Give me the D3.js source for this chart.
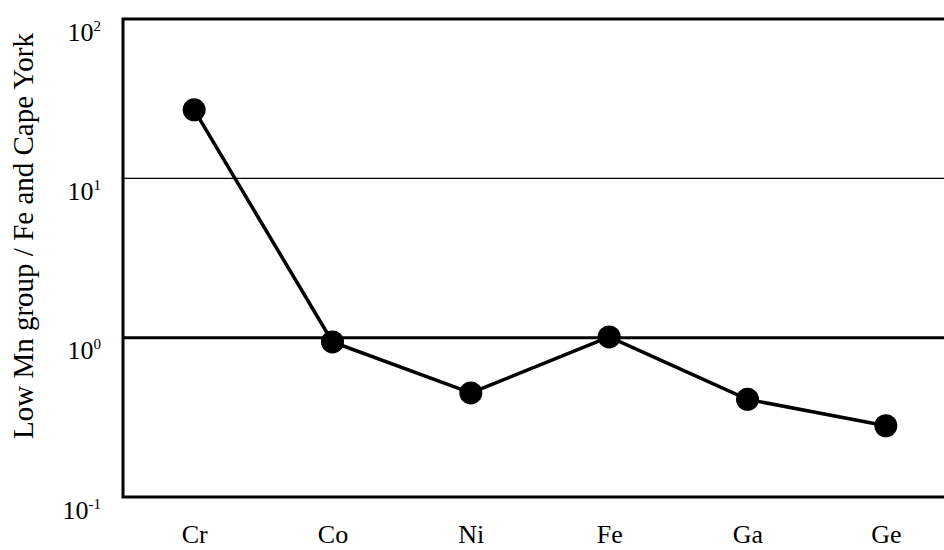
<!DOCTYPE html>
<html lang="en">
<head>
<meta charset="UTF-8">
<title>Low Mn group / Fe and Cape York</title>
<script src="https://d3js.org/d3.v7.min.js"></script>
<style>
  body { margin: 0; background: #fff; }
  svg text { font-family: "Liberation Serif", "Times New Roman", serif; fill: #000; }
</style>
</head>
<body>
<svg width="944" height="550"></svg>
<script>
  // data
  const elements = ["Cr", "Co", "Ni", "Fe", "Ga", "Ge"];
  const ratios = [26.9, 0.94, 0.45, 1.01, 0.41, 0.28];
  const yTicks = [0.1, 1, 10, 100];
  const yTickExp = ["-1", "0", "1", "2"];
  const yLabel = "Low Mn group / Fe and Cape York";

  const svg = d3.select("svg");
  const plotLeft = 123, plotTop = 19, plotBottom = 497, plotRight = 960;

  const x = d3.scalePoint().domain(elements).range([125, 955]).padding(0.5);
  const y = d3.scaleLog().domain([0.1, 100]).range([plotBottom, plotTop]);

  // frame (right side runs off the page)
  svg.append("path")
    .attr("d", `M${plotRight},${plotTop}H${plotLeft}V${plotBottom}H${plotRight}`)
    .attr("fill", "none")
    .attr("stroke", "#000")
    .attr("stroke-width", 3);

  // reference lines at 10 and 1
  svg.append("line")
    .attr("x1", plotLeft).attr("x2", plotRight)
    .attr("y1", y(10)).attr("y2", y(10))
    .attr("stroke", "#000").attr("stroke-width", 1.4);
  svg.append("line")
    .attr("x1", plotLeft).attr("x2", plotRight)
    .attr("y1", y(1)).attr("y2", y(1))
    .attr("stroke", "#000").attr("stroke-width", 3);

  // y axis tick labels as 10^n
  const yAxis = svg.append("g")
    .attr("transform", `translate(${plotLeft},0)`)
    .call(d3.axisLeft(y).tickValues(yTicks).tickSize(0).tickFormat(""));
  yAxis.select(".domain").remove();
  yAxis.selectAll(".tick text").remove();
  yAxis.selectAll(".tick").each(function (d, i) {
    const t = d3.select(this).append("text")
      .attr("x", -22)
      .attr("y", 21)
      .attr("text-anchor", "end")
      .attr("font-size", 26);
    t.append("tspan").text("10");
    t.append("tspan")
      .attr("font-size", 15)
      .attr("dy", -10)
      .text(yTickExp[i]);
  });

  // x axis category labels
  const xAxis = svg.append("g")
    .attr("transform", `translate(0,${plotBottom})`)
    .call(d3.axisBottom(x).tickSize(0).tickPadding(0));
  xAxis.select(".domain").remove();
  xAxis.selectAll(".tick text")
    .attr("font-size", 26)
    .attr("dy", 0)
    .attr("y", 46)
    .style("font-family", "Liberation Serif, serif");

  // y axis title
  svg.append("text")
    .attr("transform", "translate(33,236) rotate(-90)")
    .attr("text-anchor", "middle")
    .attr("font-size", 29)
    .text(yLabel);

  // data line and markers
  const pts = elements.map((e, i) => ({ e, v: ratios[i] }));
  svg.append("path")
    .datum(pts)
    .attr("fill", "none")
    .attr("stroke", "#000")
    .attr("stroke-width", 3.5)
    .attr("d", d3.line().x(d => x(d.e)).y(d => y(d.v)));

  svg.selectAll("circle")
    .data(pts)
    .join("circle")
    .attr("cx", d => x(d.e))
    .attr("cy", d => y(d.v))
    .attr("r", 11.5)
    .attr("fill", "#000");
</script>
</body>
</html>
